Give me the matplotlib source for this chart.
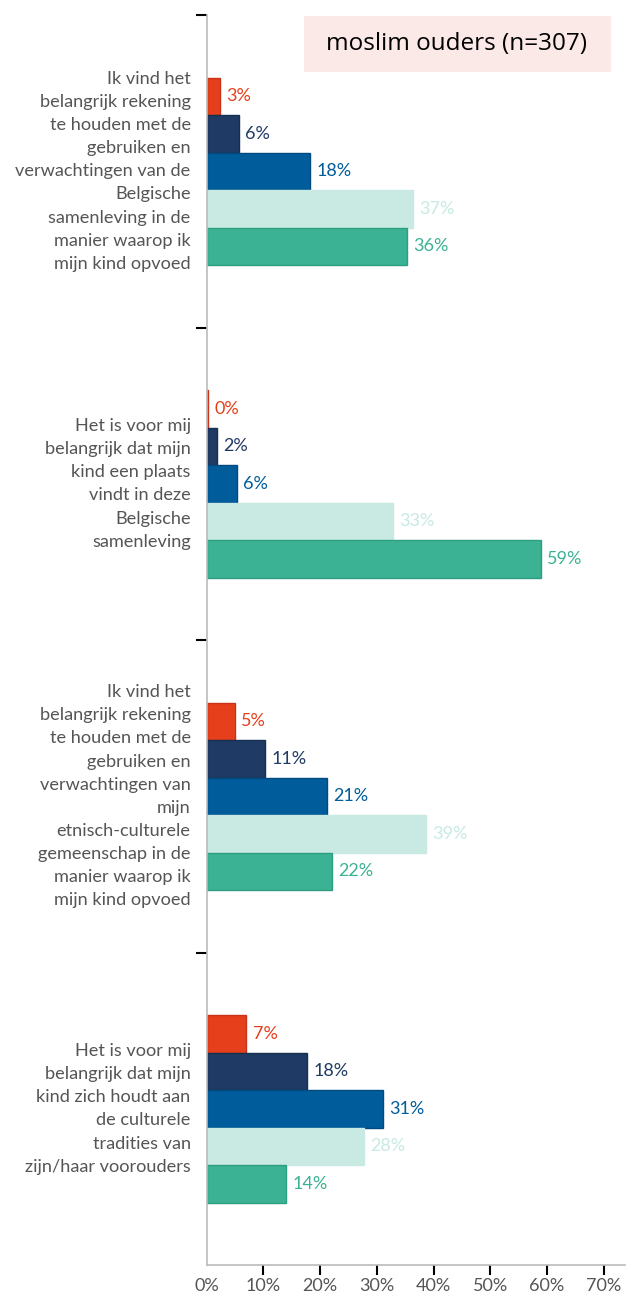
import matplotlib.pyplot as plt
from matplotlib.patches import Rectangle

# Stellingen (van boven naar onder)
stellingen = [
    "Ik vind het\nbelangrijk rekening\nte houden met de\ngebruiken en\nverwachtingen van de\nBelgische\nsamenleving in de\nmanier waarop ik\nmijn kind opvoed",
    "Het is voor mij\nbelangrijk dat mijn\nkind een plaats\nvindt in deze\nBelgische\nsamenleving",
    "Ik vind het\nbelangrijk rekening\nte houden met de\ngebruiken en\nverwachtingen van\nmijn\netnisch-culturele\ngemeenschap in de\nmanier waarop ik\nmijn kind opvoed",
    "Het is voor mij\nbelangrijk dat mijn\nkind zich houdt aan\nde culturele\ntradities van\nzijn/haar voorouders",
]

# Percentages per antwoordcategorie (5 categorieën, rood -> groen)
cat1 = [2.4, 0.3, 5.0, 7.0]
cat2 = [5.7, 1.8, 10.3, 17.7]
cat3 = [18.2, 5.4, 21.2, 31.1]
cat4 = [36.4, 32.8, 38.6, 27.7]
cat5 = [35.3, 58.9, 22.1, 14.0]

labels1 = ["3%", "0%", "5%", "7%"]
labels2 = ["6%", "2%", "11%", "18%"]
labels3 = ["18%", "6%", "21%", "31%"]
labels4 = ["37%", "33%", "39%", "28%"]
labels5 = ["36%", "59%", "22%", "14%"]

reeksen = [cat1, cat2, cat3, cat4, cat5]
labels = [labels1, labels2, labels3, labels4, labels5]
kleuren = ["#E5401B", "#1F3A64", "#005C9A", "#C8EAE3", "#3BB293"]
randen = ["#C8341A", "#17304F", "#004A80", "#C8EAE3", "#2E9E80"]
tekstkleuren = ["#E5401B", "#1F3A64", "#005C9A", "#C8EAE3", "#3BB293"]

plt.rcParams["font.family"] = ["Lato", "DejaVu Sans"]

fig = plt.figure(figsize=(6.26, 12.98), dpi=100)
ax = fig.add_axes([0.33, 0.0254, 0.668, 0.9630])

hoogte = 0.12
for j, (waarden, lbls) in enumerate(zip(reeksen, labels)):
    for i, (v, l) in enumerate(zip(waarden, lbls)):
        y = i + 0.5 + (j - 2) * hoogte
        ax.barh(y, v, height=hoogte, color=kleuren[j], edgecolor=randen[j], linewidth=1)
        ax.text(v + 1.1, y, l, va="center", ha="left", fontsize=13,
                color=tekstkleuren[j])

for i, tekst in enumerate(stellingen):
    ax.text(-2.8, i + 0.5, tekst, ha="right", va="center", fontsize=13.1,
            color="#555555", linespacing=1.55)

ax.set_ylim(4, 0)
ax.set_xlim(0, 73.7)
ax.set_yticks([0, 1, 2, 3])
ax.set_yticklabels([])
ax.tick_params(axis="y", length=8, width=1.5, color="black")
ax.set_xticks(range(0, 80, 10))
ax.set_xticklabels([f"{t}%" for t in range(0, 80, 10)], color="#555555", fontsize=13)
ax.tick_params(axis="x", length=7, width=1.5, color="black", pad=2)
ax.xaxis.get_major_ticks()[0].tick1line.set_visible(False)

for s in ["top", "right"]:
    ax.spines[s].set_visible(False)
for s in ["left", "bottom"]:
    ax.spines[s].set_color("#BBBBBB")
    ax.spines[s].set_linewidth(1.2)

# Titelkader rechtsboven
fig.patches.append(Rectangle((304 / 626, 1 - 72 / 1298), 307 / 626, 56 / 1298,
                             transform=fig.transFigure, facecolor="#FBE9E7",
                             edgecolor="none", zorder=0))
fig.text(457 / 626, 1 - 44 / 1298, "moslim ouders (n=307)", ha="center", va="center",
         fontsize=17.5, color="black", family=["Open Sans", "DejaVu Sans"])

fig.savefig("out.png", dpi=100)
